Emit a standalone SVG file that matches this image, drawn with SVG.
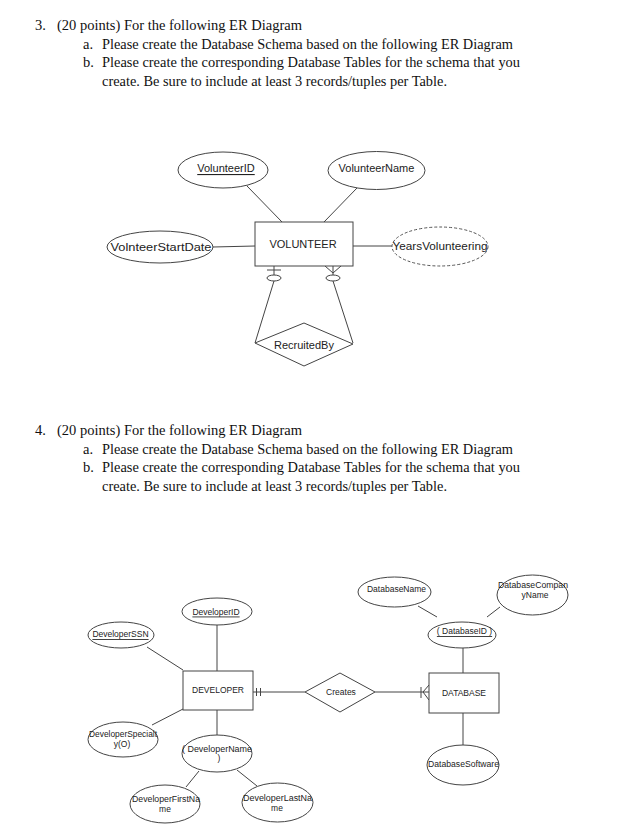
<svg xmlns="http://www.w3.org/2000/svg" width="626" height="838" viewBox="0 0 626 838">
<style>
.q{font-family:"Liberation Serif","Times New Roman",serif;font-size:14.5px;fill:#111}
.t{font-family:"Liberation Sans",Arial,sans-serif;font-size:11px;fill:#222;text-anchor:middle;dominant-baseline:central}
.s{font-family:"Liberation Sans",Arial,sans-serif;font-size:8.5px;fill:#222;text-anchor:middle;dominant-baseline:central}
.u{text-decoration:underline}
.sh{fill:#fff;stroke:#444;stroke-width:1}
.dash{fill:#fff;stroke:#555;stroke-width:1;stroke-dasharray:3 2}
.ln{stroke:#444;stroke-width:1;fill:none}
</style>
<rect width="626" height="838" fill="#fff"/>

<g id="question3">
<text class="q" x="35" y="30">3.</text>
<text class="q" x="57" y="30" textLength="245" lengthAdjust="spacingAndGlyphs">(20 points) For the following ER Diagram</text>
<text class="q" x="83" y="48.7">a.</text>
<text class="q" x="102" y="48.7" textLength="411" lengthAdjust="spacingAndGlyphs">Please create the Database Schema based on the following ER Diagram</text>
<text class="q" x="83" y="67.4">b.</text>
<text class="q" x="102" y="67.4" textLength="418" lengthAdjust="spacingAndGlyphs">Please create the corresponding Database Tables for the schema that you</text>
<text class="q" x="102" y="86" textLength="345" lengthAdjust="spacingAndGlyphs">create. Be sure to include at least 3 records/tuples per Table.</text>
</g>

<g id="question4">
<text class="q" x="35" y="435">4.</text>
<text class="q" x="57" y="435" textLength="245" lengthAdjust="spacingAndGlyphs">(20 points) For the following ER Diagram</text>
<text class="q" x="83" y="453.7">a.</text>
<text class="q" x="102" y="453.7" textLength="411" lengthAdjust="spacingAndGlyphs">Please create the Database Schema based on the following ER Diagram</text>
<text class="q" x="83" y="472.4">b.</text>
<text class="q" x="102" y="472.4" textLength="418" lengthAdjust="spacingAndGlyphs">Please create the corresponding Database Tables for the schema that you</text>
<text class="q" x="102" y="491" textLength="345" lengthAdjust="spacingAndGlyphs">create. Be sure to include at least 3 records/tuples per Table.</text>
</g>

<g id="connectors">
<!-- diagram 1 -->
<line class="ln" x1="247" y1="186" x2="282" y2="222"/>
<line class="ln" x1="357" y1="188" x2="324" y2="222"/>
<line class="ln" x1="213" y1="247" x2="255" y2="246"/>
<line class="ln" x1="353" y1="246" x2="392" y2="246"/>
<line class="ln" x1="274" y1="266" x2="274" y2="275"/>
<line class="ln" x1="267" y1="270" x2="281" y2="270"/>
<line class="ln" x1="274" y1="281" x2="255" y2="343"/>
<line class="ln" x1="325" y1="266" x2="333" y2="273"/>
<line class="ln" x1="341" y1="266" x2="333" y2="273"/>
<line class="ln" x1="333" y1="266" x2="333" y2="275"/>
<line class="ln" x1="333" y1="281" x2="353" y2="343"/>
<ellipse class="sh" cx="274" cy="278" rx="7" ry="3"/>
<ellipse class="sh" cx="333" cy="278" rx="7" ry="3"/>
<!-- diagram 2 -->
<line class="ln" x1="147" y1="647" x2="183" y2="670"/>
<line class="ln" x1="152" y1="725" x2="183" y2="709"/>
<line class="ln" x1="217" y1="625" x2="217" y2="671"/>
<line class="ln" x1="217" y1="710" x2="217" y2="735"/>
<line class="ln" x1="199" y1="771" x2="186" y2="787"/>
<line class="ln" x1="237" y1="770" x2="257" y2="786"/>
<line class="ln" x1="418" y1="606" x2="437" y2="617"/>
<line class="ln" x1="500" y1="607" x2="487" y2="617"/>
<line class="ln" x1="463" y1="648" x2="463" y2="673"/>
<line class="ln" x1="463" y1="712" x2="463" y2="745"/>
<line class="ln" x1="253" y1="692" x2="305" y2="692"/>
<line class="ln" x1="256.5" y1="688" x2="256.5" y2="696"/>
<line class="ln" x1="260.5" y1="688" x2="260.5" y2="696"/>
<line class="ln" x1="375" y1="692" x2="429" y2="692"/>
<line class="ln" x1="421" y1="687" x2="421" y2="698"/>
<line class="ln" x1="423" y1="692" x2="429" y2="685"/>
<line class="ln" x1="423" y1="692" x2="429" y2="700"/>
</g>

<g id="VolunteerID"><ellipse class="sh" cx="223" cy="170" rx="45" ry="18"/><text class="t u" x="226" y="168">VolunteerID</text></g>
<g id="VolunteerName"><ellipse class="sh" cx="376.5" cy="170.5" rx="48.5" ry="19"/><text class="t" x="376.5" y="168">VolunteerName</text></g>
<g id="VOLUNTEER"><rect class="sh" x="255" y="222" width="98" height="44"/><text class="t" x="303" y="244">VOLUNTEER</text></g>
<g id="VolnteerStartDate"><ellipse class="sh" cx="160" cy="247" rx="53" ry="16"/><text class="t" x="161" y="247" textLength="101" lengthAdjust="spacingAndGlyphs">VolnteerStartDate</text></g>
<g id="YearsVolunteering"><ellipse class="dash" cx="440" cy="246.5" rx="48" ry="19.5"/><text class="t" x="440" y="246" textLength="95" lengthAdjust="spacingAndGlyphs">YearsVolunteering</text></g>
<g id="RecruitedBy"><polygon class="sh" points="255,343 304,323 353,344 304,366"/><text class="t" x="304" y="345">RecruitedBy</text></g>

<g id="DeveloperSSN"><ellipse class="sh" cx="121" cy="635" rx="33" ry="13"/><text class="s u" x="120.5" y="634">DeveloperSSN</text></g>
<g id="DeveloperID"><ellipse class="sh" cx="217" cy="611.5" rx="35" ry="13.5"/><text class="s u" x="216" y="611.5">DeveloperID</text></g>
<g id="DEVELOPER"><rect class="sh" x="183" y="671" width="70" height="39"/><text class="s" x="218" y="690">DEVELOPER</text></g>
<g id="DeveloperSpecialty"><ellipse class="sh" cx="123" cy="739.5" rx="35" ry="17.5"/><text class="s" x="123" y="734" textLength="68" lengthAdjust="spacingAndGlyphs">DeveloperSpecialt</text><text class="s" x="122" y="744">y(O)</text></g>
<g id="DeveloperName"><ellipse class="sh" cx="217" cy="753.5" rx="35" ry="18.5"/><text class="s" x="217" y="749" textLength="70" lengthAdjust="spacingAndGlyphs">( DeveloperName</text><text class="s" x="219" y="758">)</text></g>
<g id="DeveloperFirstName"><ellipse class="sh" cx="165" cy="804" rx="35" ry="19"/><text class="s" x="166" y="799" textLength="68" lengthAdjust="spacingAndGlyphs">DeveloperFirstNa</text><text class="s" x="165" y="809">me</text></g>
<g id="DeveloperLastName"><ellipse class="sh" cx="277.5" cy="802.5" rx="35.5" ry="19.5"/><text class="s" x="277.5" y="798" textLength="69" lengthAdjust="spacingAndGlyphs">DeveloperLastNa</text><text class="s" x="277" y="808">me</text></g>
<g id="Creates"><polygon class="sh" points="305,692 340,673 375,692 340,712"/><text class="s" x="341" y="691.5">Creates</text></g>
<g id="DATABASE"><rect class="sh" x="429" y="673" width="70" height="40"/><text class="s" x="464" y="693">DATABASE</text></g>
<g id="DatabaseID"><ellipse class="sh" cx="462" cy="635" rx="34" ry="13"/><text class="s u" x="464.5" y="631">( DatabaseID )</text></g>
<g id="DatabaseName"><ellipse class="sh" cx="394.5" cy="592" rx="36.5" ry="15"/><text class="s" x="396.5" y="589">DatabaseName</text></g>
<g id="DatabaseCompanyName"><ellipse class="sh" cx="532.5" cy="595" rx="35.5" ry="20"/><text class="s" x="533" y="585" textLength="70" lengthAdjust="spacingAndGlyphs">DatabaseCompan</text><text class="s" x="535" y="595">yName</text></g>
<g id="DatabaseSoftware"><ellipse class="sh" cx="463" cy="765" rx="36" ry="20"/><text class="s" x="463.5" y="764" textLength="71" lengthAdjust="spacingAndGlyphs">DatabaseSoftware</text></g>
</svg>
